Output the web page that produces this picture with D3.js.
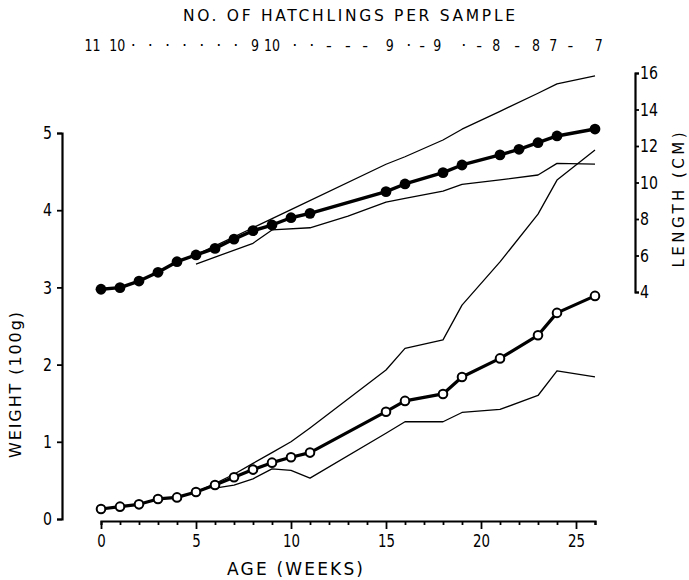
<!DOCTYPE html>
<html>
<head>
<meta charset="utf-8">
<script src="https://cdn.jsdelivr.net/npm/d3@7"></script>
<style>
  html, body { margin: 0; padding: 0; background: #fff; }
  svg { display: block; }
  text { font-family: "DejaVu Sans", "Liberation Sans", sans-serif; fill: #000; }
</style>
</head>
<body>
<svg id="chart" width="689" height="580"></svg>
<script>
// ---------------- DATA ----------------
const weightWeeks  = [0,1,2,3,4,5,6,7,8,9,10,11,15,16,18,19,21,23,24,26];
const weightMean   = [0.13,0.16,0.19,0.26,0.28,0.35,0.44,0.54,0.64,0.73,0.80,0.86,1.39,1.53,1.62,1.84,2.08,2.38,2.67,2.89];

const weightUpperWeeks = [5,6,7,8,9,10,11,15,16,18,19,21,23,24,26];
const weightUpper      = [0.35,0.46,0.58,0.72,0.86,1.00,1.18,1.93,2.21,2.32,2.77,3.33,3.95,4.39,4.78];
const weightLowerWeeks = [6,7,8,9,10,11,15,16,18,19,21,23,24,26];
const weightLower      = [0.40,0.44,0.52,0.65,0.63,0.53,1.11,1.26,1.26,1.38,1.42,1.60,1.92,1.84];

const lengthWeeks  = [0,1,2,3,4,5,6,7,8,9,10,11,15,16,18,19,21,22,23,24,26];
const lengthMean   = [4.15,4.24,4.60,5.08,5.66,6.03,6.39,6.90,7.36,7.67,8.07,8.31,9.50,9.92,10.54,10.96,11.51,11.82,12.18,12.55,12.93];

const lengthUpperWeeks = [5,10,15,16,18,19,21,23,24,26];
const lengthUpper      = [6.03,8.51,11.00,11.41,12.33,12.92,13.90,14.89,15.40,15.84];
const lengthLowerWeeks = [5,8,9,11,13,15,16,18,19,21,23,24,26];
const lengthLower      = [5.53,6.67,7.40,7.52,8.16,8.93,9.13,9.53,9.90,10.14,10.41,11.05,11.01];

const ageTicks      = d3.range(0, 27);
const ageLabels     = [0,5,10,15,20,25];
const weightTicks   = [0,1,2,3,4,5];
const lengthTicks   = [4,6,8,10,12,14,16];

const hatchTokens = ["11","10","·","·","·","·","·","·","·","9","10","·","·","-","-","-","9","·","-","9","·","-","8","-","8","7","-","7"];
const hatchWeeks  = [-0.45,0.85,1.7,2.6,3.5,4.4,5.3,6.2,7.1,8.1,9.0,10.2,11.1,12.0,13.0,13.9,15.2,16.2,16.9,17.7,19.1,19.9,20.8,21.9,22.9,23.8,24.7,26.2];

const titleText  = "NO. OF HATCHLINGS PER SAMPLE";
const xLabelText = "AGE (WEEKS)";
const yLabelText = "WEIGHT (100g)";
const y2LabelText = "LENGTH (CM)";

// ---------------- SCALES ----------------
const svg = d3.select("#chart");
const x  = d3.scaleLinear().domain([0, 26]).range([101, 595]);
const yW = d3.scaleLinear().domain([0, 5]).range([519, 133]);
const yL = d3.scaleLinear().domain([4, 16]).range([292, 73]);

// narrow digits: squeeze glyphs to a condensed width
function narrow(sel, perChar) {
  sel.each(function() {
    const t = d3.select(this).text();
    if (t.length) d3.select(this).attr("textLength", t.length * perChar).attr("lengthAdjust", "spacingAndGlyphs");
  });
}

// ---------------- AXES ----------------
const xAxis = d3.axisBottom(x).tickValues(ageTicks).tickSizeOuter(0).tickSize(4).tickPadding(9)
  .tickFormat(d => ageLabels.includes(d) ? d : "");
const gx = svg.append("g").attr("transform", "translate(0,521)").call(xAxis);
gx.selectAll(".tick line").attr("y2", d => ageLabels.includes(d) ? 8 : 4);
gx.select(".domain").attr("stroke-width", 2.2);
gx.selectAll(".tick line").attr("stroke-width", 1.8);
gx.selectAll("text").attr("font-size", 18).attr("fill", "#000").call(narrow, 8.5);

const yAxisL = d3.axisLeft(yW).tickValues(weightTicks).tickSizeOuter(0).tickSize(5).tickPadding(5).tickFormat(d3.format("d"));
const gyl = svg.append("g").attr("transform", "translate(62,0)").call(yAxisL);
gyl.select(".domain").attr("stroke-width", 2.2);
gyl.selectAll(".tick line").attr("stroke-width", 1.8);
gyl.selectAll("text").attr("font-size", 18).attr("fill", "#000").call(narrow, 9);

const yAxisR = d3.axisRight(yL).tickValues(lengthTicks).tickSizeOuter(0).tickSize(4).tickPadding(1).tickFormat(d3.format("d"));
const gyr = svg.append("g").attr("transform", "translate(635,0)").call(yAxisR);
gyr.select(".domain").attr("stroke-width", 2.2);
gyr.selectAll(".tick line").attr("stroke-width", 1.8);
gyr.selectAll("text").attr("font-size", 18).attr("fill", "#000").call(narrow, 9);

svg.selectAll(".domain, .tick line").attr("stroke", "#000");

// ---------------- LINES ----------------
function series(weeks, vals) { return weeks.map((w, i) => [w, vals[i]]); }
const lineW = d3.line().x(d => x(d[0])).y(d => yW(d[1]));
const lineL = d3.line().x(d => x(d[0])).y(d => yL(d[1]));

const thin = [
  [lineW, series(weightUpperWeeks, weightUpper)],
  [lineW, series(weightLowerWeeks, weightLower)],
  [lineL, series(lengthUpperWeeks, lengthUpper)],
  [lineL, series(lengthLowerWeeks, lengthLower)]
];
thin.forEach(([gen, data]) => {
  svg.append("path").attr("d", gen(data)).attr("fill", "none")
    .attr("stroke", "#000").attr("stroke-width", 1.3).attr("stroke-linejoin", "round");
});

const wData = series(weightWeeks, weightMean);
const lData = series(lengthWeeks, lengthMean);
svg.append("path").attr("d", lineW(wData)).attr("fill", "none").attr("stroke", "#000").attr("stroke-width", 3.2).attr("stroke-linejoin", "round");
svg.append("path").attr("d", lineL(lData)).attr("fill", "none").attr("stroke", "#000").attr("stroke-width", 3.4).attr("stroke-linejoin", "round");

svg.append("g").selectAll("circle").data(wData).join("circle")
  .attr("cx", d => x(d[0])).attr("cy", d => yW(d[1])).attr("r", 4.3)
  .attr("fill", "#fff").attr("stroke", "#000").attr("stroke-width", 2);

svg.append("g").selectAll("circle").data(lData).join("circle")
  .attr("cx", d => x(d[0])).attr("cy", d => yL(d[1])).attr("r", 5.4)
  .attr("fill", "#000");

// ---------------- TEXT ----------------
svg.append("text").attr("x", 349).attr("y", 21).attr("text-anchor", "middle")
  .attr("font-size", 15.5).attr("textLength", 332).attr("lengthAdjust", "spacing").text(titleText);

svg.append("g").selectAll("text").data(hatchTokens).join("text")
  .attr("x", (d, i) => x(hatchWeeks[i])).attr("y", 51).attr("text-anchor", "middle")
  .attr("font-size", 16).text(d => d)
  .each(function(d) { if (/\d/.test(d)) d3.select(this).attr("textLength", d.length * 8).attr("lengthAdjust", "spacingAndGlyphs"); });

svg.append("text").attr("x", 295).attr("y", 575).attr("text-anchor", "middle")
  .attr("font-size", 17).attr("textLength", 136).attr("lengthAdjust", "spacing").text(xLabelText);

svg.append("text").attr("transform", "translate(21,385) rotate(-90)").attr("text-anchor", "middle")
  .attr("font-size", 16).attr("textLength", 146).attr("lengthAdjust", "spacing").text(yLabelText);

svg.append("text").attr("transform", "translate(684,200) rotate(-90)").attr("text-anchor", "middle")
  .attr("font-size", 15).attr("textLength", 135).attr("lengthAdjust", "spacing").text(y2LabelText);
</script>
</body>
</html>
